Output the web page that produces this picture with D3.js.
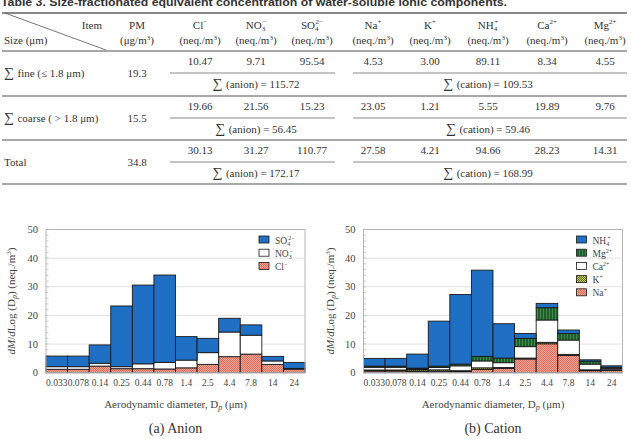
<!DOCTYPE html>
<html lang="en">
<head>
  <meta charset="UTF-8">
  <script src="https://cdn.jsdelivr.net/npm/d3@7"></script>
  <title>Table 3 and size distribution</title>
  <style>
    body { margin: 0; background: #fff; }
    svg text { font-family: "Liberation Serif", "DejaVu Serif", serif; fill: #333; }
  </style>
</head>
<body>
  <svg width="631" height="439" id="fig"></svg>
  <script>
    // table data
    let rowLabels = ["fine", "coarse", "Total"];
    let pmValues = ["19.3", "15.5", "34.8"];
    let anionCols = ["10.47", "9.71", "95.54", "19.66", "21.56", "15.23", "30.13", "31.27", "110.77"];
    let cationCols = ["4.53", "3.00", "89.11", "8.34", "4.55",
                      "23.05", "1.21", "5.55", "19.89", "9.76",
                      "27.58", "4.21", "94.66", "28.23", "14.31"];
    let anionSums = ["115.72", "56.45", "172.17"];
    let cationSums = ["109.53", "59.46", "168.99"];

    // chart data
    let sizes = ["0.033", "0.078", "0.14", "0.25", "0.44", "0.78", "1.4", "2.5", "4.4", "7.8", "14", "24"];
    let cl  = [1.2, 1.2, 2.3, 1.4, 1.4, 1.3, 1.7, 2.9, 5.6, 6.5, 2.9, 1.2];
    let no3 = [0.9, 0.9, 1.0, 0.7, 1.7, 2.3, 2.7, 4.1, 8.6, 6.6, 1.2, 0.3];
    let so4 = [3.7, 3.7, 6.4, 21.2, 27.5, 30.5, 8.2, 5.0, 4.8, 3.6, 1.6, 2.1];
    let na  = [0.6, 0.6, 0.4, 0.5, 0.4, 1.1, 1.5, 4.8, 10.1, 6.0, 0.7, 0.8];
    let k   = [0.35, 0.35, 0.6, 0.5, 0.3, 0.6, 0.3, 0.3, 0.5, 0.4, 0.3, 0.2];
    let ca  = [0.95, 0.95, 0.3, 0.8, 1.7, 2.4, 1.7, 4.0, 7.8, 5.0, 2.0, 0.4];
    let mg  = [0.4, 0.4, 0.3, 0.5, 0.6, 1.6, 1.6, 2.9, 4.3, 2.3, 1.0, 0.5];
    let nh4 = [2.7, 2.7, 4.9, 15.7, 24.3, 30.1, 12.0, 1.7, 1.5, 1.2, 0.5, 0.5];
    let yTicks = [0, 10, 20, 30, 40, 50];

    let svg = d3.select("#fig");

    /* PATTERNS */
    let defs = svg.append("defs");
    let pSalmon = defs.append("pattern").attr("id", "salmon").attr("width", 2).attr("height", 2)
      .attr("patternUnits", "userSpaceOnUse");
    pSalmon.append("rect").attr("width", 2).attr("height", 2).attr("fill", "#f4a393");
    pSalmon.append("rect").attr("width", 1).attr("height", 1).attr("fill", "#e0705f");
    pSalmon.append("rect").attr("x", 1).attr("y", 1).attr("width", 1).attr("height", 1).attr("fill", "#e0705f");

    let pGreen = defs.append("pattern").attr("id", "green").attr("width", 3).attr("height", 3)
      .attr("patternUnits", "userSpaceOnUse");
    pGreen.append("rect").attr("width", 3).attr("height", 3).attr("fill", "#1f5f2c");
    pGreen.append("rect").attr("width", 1).attr("height", 3).attr("fill", "#3f8a4a");

    let pOlive = defs.append("pattern").attr("id", "olive").attr("width", 2).attr("height", 2)
      .attr("patternUnits", "userSpaceOnUse");
    pOlive.append("rect").attr("width", 2).attr("height", 2).attr("fill", "#5f6e1f");
    pOlive.append("rect").attr("width", 1).attr("height", 1).attr("fill", "#c8d060");
    pOlive.append("rect").attr("x", 1).attr("y", 1).attr("width", 1).attr("height", 1).attr("fill", "#c8d060");

    let blue = "#1f6fc4";

    /* TITLE (cut at the top of the picture, as in the scan) */
    svg.append("text").text("Table 3. Size-fractionated equivalent concentration of water-soluble ionic components.")
      .attr("x", 1).attr("y", 6)
      .attr("textLength", 506).attr("lengthAdjust", "spacingAndGlyphs")
      .style("font-family", "Liberation Sans, Arial, sans-serif").style("font-weight", "bold")
      .style("font-size", "11.5px");

    /* TABLE */
    let table = svg.append("g");
    let fs = "11px";
    function hline(x1, x2, y, w, c) {
      table.append("line").attr("x1", x1).attr("x2", x2).attr("y1", y).attr("y2", y)
        .attr("stroke", c || "#8a8a8a").attr("stroke-width", w || 1.2);
    }
    hline(2, 627, 13, 1.8);
    hline(2, 627, 51, 1.4);
    hline(2, 627, 96, 1.4);
    hline(2, 627, 140, 1.4);
    hline(2, 627, 184, 1.4);
    table.append("line").attr("x1", 5).attr("y1", 13).attr("x2", 106).attr("y2", 50)
      .attr("stroke", "#666").attr("stroke-width", 0.9);

    table.append("text").text("Item").attr("x", 102).attr("y", 29).attr("text-anchor", "end").style("font-size", fs);
    table.append("text").text("Size (μm)").attr("x", 4).attr("y", 44).style("font-size", fs);

    // column heads: [main, sub, sup]
    let colX = [137, 200, 256, 312, 373, 430, 488, 547, 605];
    let heads = [["PM", "", ""], ["Cl", "", "−"], ["NO", "3", "−"], ["SO", "4", "2−"],
                 ["Na", "", "+"], ["K", "", "+"], ["NH", "4", "+"], ["Ca", "", "2+"], ["Mg", "", "2+"]];
    heads.forEach((h, i) => {
      let t = table.append("text").attr("x", colX[i]).attr("y", 29).attr("text-anchor", "middle").style("font-size", fs);
      t.append("tspan").text(h[0]);
      if (h[1]) t.append("tspan").text(h[1]).attr("dy", 2).style("font-size", "7px");
      if (h[2]) t.append("tspan").text(h[2]).attr("dy", h[1] ? -7 : -5).attr("dx", h[1] ? -3 : 0).style("font-size", "7px");
      let u = table.append("text").attr("x", colX[i]).attr("y", 44).attr("text-anchor", "middle").style("font-size", fs);
      u.append("tspan").text(i == 0 ? "(μg/m" : "(neq./m");
      u.append("tspan").text("3").attr("dy", -4).style("font-size", "7px");
      u.append("tspan").text(")").attr("dy", 4);
    });

    // rows
    let rowTop = [51, 96, 140];
    let labelText = ["fine (≤ 1.8 μm)", "coarse ( > 1.8 μm)", "Total"];
    rowLabels.forEach((r, i) => {
      let y0 = rowTop[i];
      let lab = table.append("text").attr("x", 4).attr("y", y0 + 26).style("font-size", fs);
      if (i < 2) lab.append("tspan").text("∑ ").style("font-size", "14px");
      lab.append("tspan").text(labelText[i]);
      table.append("text").text(pmValues[i]).attr("x", colX[0]).attr("y", y0 + 26)
        .attr("text-anchor", "middle").style("font-size", fs);
      for (let j = 0; j < 3; j++) {
        table.append("text").text(anionCols[i * 3 + j]).attr("x", colX[1 + j]).attr("y", y0 + 14)
          .attr("text-anchor", "middle").style("font-size", fs);
      }
      for (let j = 0; j < 5; j++) {
        table.append("text").text(cationCols[i * 5 + j]).attr("x", colX[4 + j]).attr("y", y0 + 14)
          .attr("text-anchor", "middle").style("font-size", fs);
      }
      hline(170, 335, y0 + 22, 1.2);
      hline(353, 627, y0 + 22, 1.2);
      let a = table.append("text").attr("x", 256).attr("y", y0 + 37).attr("text-anchor", "middle").style("font-size", fs);
      a.append("tspan").text("∑ ").style("font-size", "14px");
      a.append("tspan").text("(anion) = " + anionSums[i]);
      let c = table.append("text").attr("x", 488).attr("y", y0 + 37).attr("text-anchor", "middle").style("font-size", fs);
      c.append("tspan").text("∑ ").style("font-size", "14px");
      c.append("tspan").text("(cation) = " + cationSums[i]);
    });

    /* CHARTS */
    function drawChart(x0, x1, keys, series, fills, legend, caption, titleX) {
      let g = svg.append("g");
      let scaleX = d3.scaleBand().domain(sizes).range([x0, x1]).padding(0);
      let scaleY = d3.scaleLinear().domain([0, 50]).range([372.7, 229.5]);

      // grid
      g.selectAll(".grid").data(yTicks.slice(1, 5)).enter().append("line")
        .attr("x1", x0).attr("x2", x1).attr("y1", d => scaleY(d)).attr("y2", d => scaleY(d))
        .attr("stroke", "#e2e2e2").attr("stroke-width", 1);

      // minor ticks on the left
      g.selectAll(".minor").data(d3.range(0, 50, 2)).enter().append("line")
        .attr("x1", x0).attr("x2", x0 + 2.5).attr("y1", d => scaleY(d)).attr("y2", d => scaleY(d))
        .attr("stroke", "#bbb").attr("stroke-width", 0.8);

      // stacked bars
      let rows = sizes.map((s, i) => {
        let o = { size: s };
        keys.forEach((key, j) => o[key] = series[j][i]);
        return o;
      });
      let stack = d3.stack().keys(keys)(rows);
      stack.forEach((layer, j) => {
        g.selectAll(".l" + j).data(layer).enter().append("rect")
          .attr("x", d => scaleX(d.data.size))
          .attr("width", scaleX.bandwidth())
          .attr("y", d => scaleY(d[1]))
          .attr("height", d => scaleY(d[0]) - scaleY(d[1]))
          .attr("fill", fills[j])
          .attr("stroke", "#1a1a1a").attr("stroke-width", 0.9);
      });

      // frame
      g.append("rect").attr("x", x0).attr("y", scaleY(50)).attr("width", x1 - x0)
        .attr("height", scaleY(0) - scaleY(50)).attr("fill", "none").attr("stroke", "#b5b5b5");

      // y labels
      g.selectAll(".yl").data(yTicks).enter().append("text")
        .text(d => d).attr("x", x0 - 8).attr("y", d => scaleY(d) + 3.5)
        .attr("text-anchor", "end").style("font-size", "10.5px").style("fill", "#444");

      // x labels
      g.selectAll(".xl").data(sizes).enter().append("text")
        .text(d => d).attr("x", d => scaleX(d) + scaleX.bandwidth() / 2).attr("y", 386)
        .attr("text-anchor", "middle").style("font-size", "9.5px").style("fill", "#444");

      let cx = (x0 + x1) / 2;
      let xt = g.append("text").attr("x", cx).attr("y", 408).attr("text-anchor", "middle")
        .style("font-size", "11px").style("fill", "#444");
      xt.append("tspan").text("Aerodynamic diameter, D");
      xt.append("tspan").text("p").attr("dy", 2).style("font-size", "8px").style("font-style", "italic");
      xt.append("tspan").text(" (μm)").attr("dy", -2);

      g.append("text").text(caption).attr("x", cx).attr("y", 433).attr("text-anchor", "middle")
        .style("font-size", "14px").style("fill", "#333");

      // y axis title
      let yt = g.append("text").attr("transform", "translate(" + titleX + ",301) rotate(-90)")
        .attr("text-anchor", "middle").style("font-size", "11px").style("fill", "#444");
      yt.append("tspan").text("dM").style("font-style", "italic");
      yt.append("tspan").text("/");
      yt.append("tspan").text("d").style("font-style", "italic");
      yt.append("tspan").text("Log (D");
      yt.append("tspan").text("p").attr("dy", 2).style("font-size", "8px").style("font-style", "italic");
      yt.append("tspan").text(") (neq./m").attr("dy", -2);
      yt.append("tspan").text("3").attr("dy", -4).style("font-size", "7px");
      yt.append("tspan").text(")").attr("dy", 4);

      // legend
      let lx = x1 - 46;
      legend.forEach((item, i) => {
        let ly = 240 + i * 13.2;
        g.append("rect").attr("x", lx).attr("y", ly - 4).attr("width", 10).attr("height", 7)
          .attr("fill", item.fill).attr("stroke", "#1a1a1a").attr("stroke-width", 0.8);
        let t = g.append("text").attr("x", lx + 16).attr("y", ly + 3.5)
          .style("font-size", "9.5px").style("fill", "#444");
        t.append("tspan").text(item.name);
        if (item.sub) t.append("tspan").text(item.sub).attr("dy", 2).style("font-size", "6px");
        t.append("tspan").text(item.sup).attr("dy", item.sub ? -6 : -4)
          .attr("dx", item.sub ? -2 : 0).style("font-size", "6px");
      });
    }

    drawChart(46, 305, ["cl", "no3", "so4"], [cl, no3, so4],
      ["url(#salmon)", "#fff", blue],
      [{ name: "SO", sub: "4", sup: "2−", fill: blue },
       { name: "NO", sub: "3", sup: "−", fill: "#fff" },
       { name: "Cl", sub: "", sup: "−", fill: "url(#salmon)" }],
      "(a) Anion", 15);

    drawChart(363.5, 622.5, ["na", "k", "ca", "mg", "nh4"], [na, k, ca, mg, nh4],
      ["url(#salmon)", "url(#olive)", "#fff", "url(#green)", blue],
      [{ name: "NH", sub: "4", sup: "+", fill: blue },
       { name: "Mg", sub: "", sup: "2+", fill: "url(#green)" },
       { name: "Ca", sub: "", sup: "2+", fill: "#fff" },
       { name: "K", sub: "", sup: "+", fill: "url(#olive)" },
       { name: "Na", sub: "", sup: "+", fill: "url(#salmon)" }],
      "(b) Cation", 334);
  </script>
</body>
</html>
